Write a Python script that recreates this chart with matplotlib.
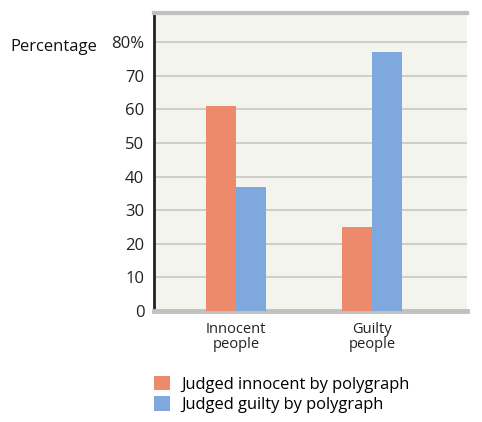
import matplotlib.pyplot as plt
import numpy as np

groups = ['Innocent\npeople', 'Guilty\npeople']
judged_innocent = [61, 25]
judged_guilty = [37, 77]
series_names = ['Judged innocent by polygraph', 'Judged guilty by polygraph']
yticks = [0, 10, 20, 30, 40, 50, 60, 70, 80]
ytick_labels = ['0', '10', '20', '30', '40', '50', '60', '70', '80%']

plt.rcParams['font.family'] = ['Open Sans', 'DejaVu Sans']

fig = plt.figure(figsize=(4.82, 4.22), dpi=100)
ax = fig.add_axes([0.3195, 0.263, 0.6495, 0.706])
ax.set_facecolor('#f4f4ee')

x = np.arange(len(groups))
w = 0.22
orange = '#ee8a6c'
blue = '#7fa8de'
b1 = ax.bar(x - w / 2, judged_innocent, w, color=orange, zorder=3, label=series_names[0])
b2 = ax.bar(x + w / 2, judged_guilty, w, color=blue, zorder=3, label=series_names[1])

ax.set_xlim(-0.603, 1.699)
ax.set_ylim(0, 88.7)
ax.set_yticks(yticks)
ax.set_yticklabels(ytick_labels, fontsize=12, color='#222222')
ax.set_xticks(x)
ax.set_xticklabels(groups, fontsize=10.5, color='#222222', linespacing=0.95)
ax.tick_params(axis='both', length=0, pad=8)
ax.tick_params(axis='y', pad=7)
ax.yaxis.grid(True, color='#cacaca', lw=1.3, zorder=0)

ax.spines['right'].set_visible(False)
ax.spines['left'].set_color('#222222')
ax.spines['left'].set_linewidth(2)
ax.spines['top'].set_color('#c0c0c0')
ax.spines['top'].set_linewidth(3)
ax.spines['bottom'].set_color('#c0c0c0')
ax.spines['bottom'].set_linewidth(3.5)

fig.text(10 / 482, 1 - 47 / 422, 'Percentage', fontsize=12, color='#111111',
         va='center', ha='left')

fig.legend(handles=[b1, b2], labels=series_names, loc='upper left',
           bbox_to_anchor=(139 / 482, 1 - 361 / 422), frameon=False,
           fontsize=11.9, handlelength=0.95, handleheight=0.95,
           handletextpad=0.7, labelspacing=0.22)

fig.savefig('out.png', dpi=100)
